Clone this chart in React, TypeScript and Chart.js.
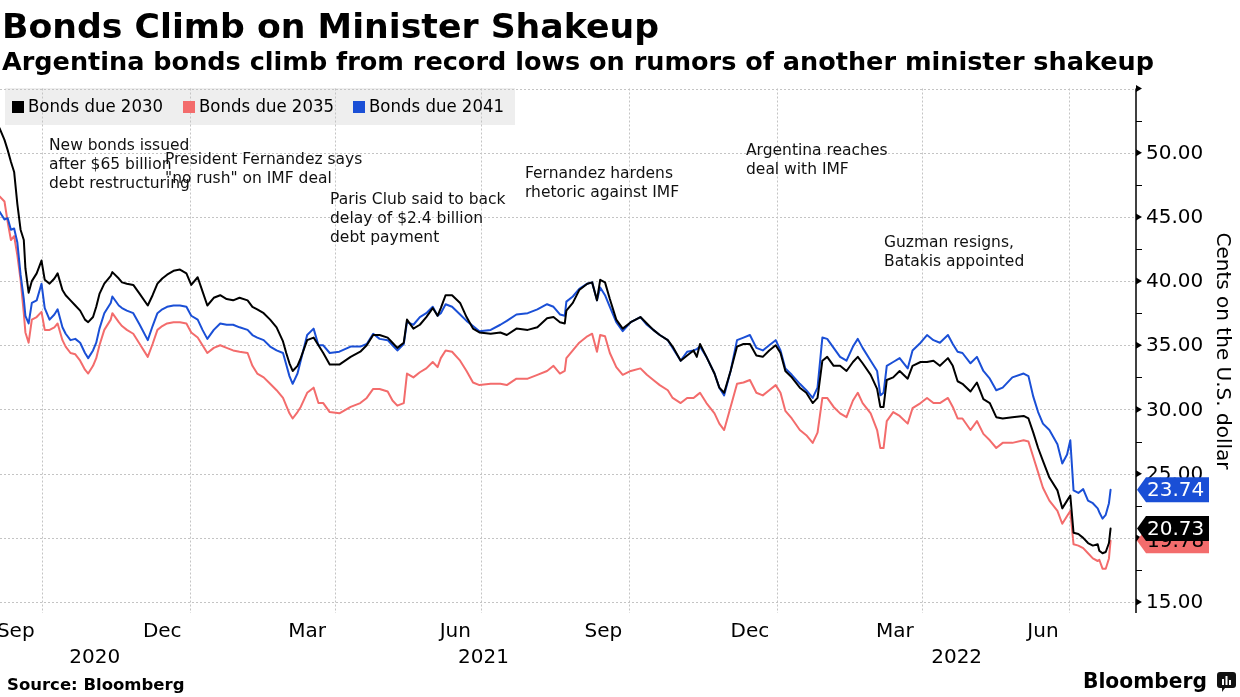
import React, { useEffect, useRef } from 'react';
import { Chart, registerables } from 'chart.js';

Chart.register(...registerables);

// Trading days, counted as days since 2020-09-01
const tradeDays = [
  4, 7, 9, 11, 13, 15, 17, 19, 20, 22,
  24, 27, 30, 32, 35, 38, 40, 43, 45, 48,
  51, 54, 57, 59, 62, 64, 66, 69, 73, 74,
  78, 80, 83, 87, 91, 96, 99, 102, 105, 108,
  112, 116, 120, 123, 127, 130, 133, 137, 141, 145,
  149, 153, 158, 161, 164, 168, 172, 176, 180, 182,
  184, 186, 189, 191, 195, 199, 202, 205, 209, 215,
  222, 228, 232, 236, 240, 245, 248, 251, 255, 257,
  261, 265, 269, 273, 276, 278, 281, 285, 290, 294,
  298, 302, 309, 315, 319, 325, 332, 338, 344, 348,
  352, 355, 356, 360, 364, 369, 372, 375, 377, 380,
  383, 387, 391, 396, 402, 406, 410, 414, 419, 422,
  427, 431, 435, 437, 439, 443, 448, 451, 454, 458,
  462, 466, 470, 474, 478, 482, 486, 489, 492, 496,
  501, 505, 509, 512, 515, 518, 522, 526, 530, 534,
  537, 540, 545, 549, 551, 553, 555, 559, 563, 568,
  571, 576, 580, 584, 588, 593, 596, 599, 602, 607,
  611, 615, 619, 623, 627, 633, 640, 643, 646, 649,
  652, 656, 661, 664, 667, 669, 671, 674, 677, 680,
  683, 686, 687, 689, 691, 693, 694,
];

const bonds2030 = [
  51.9, 51.0, 50.2, 49.3, 48.5, 46.0, 44.0, 43.2, 41.0, 39.1,
  40.0, 40.6, 41.6, 40.1, 39.8, 40.2, 40.6, 39.3, 38.9, 38.5,
  38.1, 37.7, 37.0, 36.8, 37.2, 38.0, 39.0, 39.8, 40.4, 40.7,
  40.2, 39.9, 39.8, 39.7, 39.0, 38.1, 38.9, 39.8, 40.2, 40.5,
  40.8, 40.9, 40.6, 39.7, 40.3, 39.2, 38.1, 38.7, 38.9, 38.6,
  38.5, 38.7, 38.5, 38.0, 37.8, 37.5, 37.0, 36.4, 35.3, 34.4,
  33.6, 33.0, 33.4, 34.0, 35.4, 35.6, 35.0, 34.4, 33.5, 33.5,
  34.1, 34.5, 35.0, 35.8, 35.8, 35.6, 35.2, 34.8, 35.2, 37.0,
  36.3, 36.6, 37.2, 37.9, 37.3, 37.9, 38.9, 38.9, 38.3, 37.2,
  36.3, 36.0, 35.9, 36.0, 35.8, 36.3, 36.2, 36.4, 37.1, 37.2,
  36.8, 36.7, 37.7, 38.3, 39.3, 39.8, 39.9, 38.5, 40.1, 39.9,
  38.6, 37.0, 36.3, 36.8, 37.2, 36.7, 36.2, 35.8, 35.4, 34.9,
  33.8, 34.2, 34.6, 34.1, 35.1, 34.1, 32.8, 31.7, 31.3, 33.0,
  34.9, 35.1, 35.1, 34.2, 34.1, 34.6, 35.0, 34.4, 33.0, 32.5,
  31.7, 31.3, 30.5, 30.9, 33.8, 34.1, 33.4, 33.4, 33.0, 33.7,
  34.1, 33.6, 32.7, 31.6, 30.2, 30.2, 32.3, 32.5, 33.0, 32.4,
  33.4, 33.7, 33.7, 33.8, 33.4, 34.0, 33.4, 32.2, 32.0, 31.4,
  32.1, 30.8, 30.5, 29.4, 29.3, 29.4, 29.5, 29.3, 28.2, 27.0,
  26.0, 24.7, 23.7, 22.3, 22.9, 23.3, 20.4, 20.3, 20.0, 19.6,
  19.4, 19.5, 19.0, 18.8, 18.9, 19.6, 20.73,
];

const bonds2035 = [
  46.6, 46.2, 44.6, 43.2, 43.5, 42.0, 40.1, 37.5, 36.0, 35.2,
  37.0, 37.2, 37.6, 36.2, 36.2, 36.4, 36.7, 35.4, 34.9, 34.4,
  34.3, 33.8, 33.1, 32.8, 33.4, 34.0, 35.0, 36.2, 37.0, 37.5,
  36.8, 36.5, 36.2, 35.9, 35.1, 34.1, 35.1, 36.2, 36.5, 36.7,
  36.8, 36.8, 36.7, 36.0, 35.6, 35.0, 34.4, 34.8, 35.0, 34.8,
  34.6, 34.5, 34.4, 33.4, 32.8, 32.5, 32.0, 31.5, 30.9, 30.3,
  29.7, 29.3, 29.8, 30.2, 31.3, 31.7, 30.5, 30.5, 29.8, 29.7,
  30.2, 30.5, 30.9, 31.6, 31.6, 31.4, 30.7, 30.3, 30.5, 32.8,
  32.5, 32.9, 33.2, 33.7, 33.3, 34.0, 34.6, 34.5, 33.8, 33.0,
  32.1, 31.9, 32.0, 32.0, 31.9, 32.4, 32.4, 32.7, 33.0, 33.4,
  32.8, 33.0, 34.0, 34.6, 35.2, 35.7, 35.9, 34.5, 35.8, 35.7,
  34.4, 33.3, 32.7, 33.0, 33.2, 32.7, 32.3, 31.9, 31.5, 30.9,
  30.5, 30.9, 30.9, 31.1, 31.3, 30.5, 29.7, 28.9, 28.4, 30.2,
  32.0, 32.1, 32.3, 31.3, 31.1, 31.5, 31.9, 31.3, 29.9, 29.3,
  28.4, 28.0, 27.4, 28.2, 30.9, 30.9, 30.2, 29.7, 29.4, 30.7,
  31.3, 30.5, 29.7, 28.4, 27.0, 27.0, 29.1, 29.8, 29.5, 28.9,
  30.1, 30.5, 30.9, 30.5, 30.5, 30.9, 30.2, 29.3, 29.3, 28.4,
  29.1, 28.1, 27.6, 27.0, 27.4, 27.4, 27.6, 27.5, 26.3, 25.1,
  23.9, 22.9, 22.1, 21.1, 21.7, 22.1, 19.5, 19.4, 19.2, 18.8,
  18.4, 18.2, 18.3, 17.6, 17.6, 18.4, 19.78,
];

const bonds2041 = [
  45.4, 44.8, 44.9, 44.0, 44.1, 43.0, 40.5, 38.6, 37.3, 36.7,
  38.3, 38.5, 39.8, 37.9, 37.0, 37.4, 37.8, 36.4, 35.9, 35.4,
  35.5, 35.2, 34.4, 34.0, 34.6, 35.2, 36.3, 37.5, 38.3, 38.8,
  38.1, 37.9, 37.7, 37.5, 36.6, 35.4, 36.5, 37.5, 37.8, 38.0,
  38.1, 38.1, 38.0, 37.3, 37.0, 36.2, 35.5, 36.2, 36.7, 36.6,
  36.6, 36.4, 36.2, 35.8, 35.6, 35.4, 34.9, 34.6, 34.4, 33.5,
  32.6, 32.0, 32.8, 33.8, 35.8, 36.3, 35.0, 35.0, 34.4, 34.5,
  34.9, 34.9, 35.1, 35.9, 35.5, 35.4, 35.0, 34.6, 35.1, 36.8,
  36.6, 37.2, 37.5, 38.0, 37.3, 37.5, 38.2, 38.0, 37.4, 36.9,
  36.5, 36.1, 36.2, 36.6, 36.9, 37.4, 37.5, 37.8, 38.2, 38.0,
  37.4, 37.3, 38.4, 38.8, 39.4, 39.8, 39.9, 38.5, 39.5, 38.9,
  38.0, 36.8, 36.1, 36.8, 37.2, 36.6, 36.2, 35.8, 35.4, 34.8,
  33.8, 34.5, 34.6, 34.7, 34.9, 34.1, 32.8, 31.7, 31.1, 33.0,
  35.4, 35.6, 35.8, 34.8, 34.6, 35.0, 35.4, 34.6, 33.2, 32.7,
  32.0, 31.5, 30.9, 31.7, 35.6, 35.5, 34.8, 34.1, 33.8, 34.9,
  35.5, 34.8, 33.8, 33.0, 31.1, 31.3, 33.4, 33.7, 34.0, 33.2,
  34.6, 35.2, 35.8, 35.4, 35.2, 35.8, 35.1, 34.5, 34.4, 33.6,
  34.1, 33.0, 32.4, 31.5, 31.7, 32.5, 32.8, 32.6, 31.0, 29.8,
  28.9, 28.4, 27.3, 25.8, 26.5, 27.6, 23.7, 23.5, 23.8, 22.9,
  22.7, 22.3, 22.0, 21.5, 21.8, 22.7, 23.74,
];

const seriesNames = ['Bonds due 2030', 'Bonds due 2035', 'Bonds due 2041'];
const seriesColors = ['#000000', '#f36c6c', '#1a4fd6'];
const labelTextColors = ['#ffffff', '#000000', '#ffffff'];

// Axes
const yMin = 14.15;
const yMax = 55;
const xMin = 4.22;
const xMax = 709.8;
const yMajorTicks = [15, 20, 25, 30, 35, 40, 45, 50, 55];
const yLabelledTicks = [15, 20, 25, 30, 35, 40, 45, 50];
const yMinorTicks = [17.5, 22.5, 27.5, 32.5, 37.5, 42.5, 47.5, 52.5];
const monthLabels = ['Sep', 'Dec', 'Mar', 'Jun', 'Sep', 'Dec', 'Mar', 'Jun'];
const monthLabelDays = [14, 105, 195, 287, 379, 470, 560, 652];
const quarterGridDays = [30, 122, 212, 303, 395, 487, 577, 668];
const yearLabels = ['2020', '2021', '2022'];
const yearStartDays = [-244, 122, 487];
const yearEndDays = [122, 487, 852];

// Texts
const titleText = 'Bonds Climb on Minister Shakeup';
const subtitleText = 'Argentina bonds climb from record lows on rumors of another minister shakeup';
const yAxisTitle = 'Cents on the U.S. dollar';
const sourceText = 'Source: Bloomberg';
const annotationTexts = [
  ['New bonds issued', 'after $65 billion', 'debt restructuring'],
  ['President Fernandez says', '"no rush" on IMF deal'],
  ['Paris Club said to back', 'delay of $2.4 billion', 'debt payment'],
  ['Fernandez hardens', 'rhetoric against IMF'],
  ['Argentina reaches', 'deal with IMF'],
  ['Guzman resigns,', 'Batakis appointed'],
];
// Annotation placement (pixels): left x, first baseline y
const annotationLayout = [
  [49, 150],
  [165, 164],
  [330, 204],
  [525, 178],
  [746, 155],
  [884, 247],
];

const FONT = '"DejaVu Sans", Verdana, sans-serif';

function fitText(ctx: CanvasRenderingContext2D, text: string, x: number, y: number, font: string, targetW: number, baseline: CanvasTextBaseline = 'alphabetic') {
  ctx.save();
  ctx.font = font;
  const w = ctx.measureText(text).width;
  const sx = targetW / w;
  ctx.translate(x, y);
  ctx.scale(sx, 1);
  ctx.textAlign = 'left';
  ctx.textBaseline = baseline;
  ctx.fillText(text, 0, 0);
  ctx.restore();
}

const bloombergPlugin = {
  id: 'bloombergDecor',
  beforeDatasetsDraw(chart: any) {
    const ctx: CanvasRenderingContext2D = chart.ctx;
    const area = chart.chartArea;
    const xs = chart.scales.x;
    const ys = chart.scales.y;
    ctx.save();
    // legend background
    ctx.fillStyle = '#eeeeee';
    ctx.fillRect(5, 88, 510, 37);
    // grid
    ctx.strokeStyle = '#c4c4c4';
    ctx.lineWidth = 1;
    ctx.setLineDash([2, 2]);
    for (const v of yMajorTicks) {
      const y = Math.round(ys.getPixelForValue(v)) + 0.5;
      ctx.beginPath();
      ctx.moveTo(area.left, y);
      ctx.lineTo(area.right, y);
      ctx.stroke();
    }
    for (const d of quarterGridDays) {
      const x = Math.round(xs.getPixelForValue(d)) + 0.5;
      ctx.beginPath();
      ctx.moveTo(x, area.top);
      ctx.lineTo(x, area.bottom);
      ctx.stroke();
    }
    ctx.restore();
  },
  afterDatasetsDraw(chart: any) {
    const ctx: CanvasRenderingContext2D = chart.ctx;
    const area = chart.chartArea;
    const xs = chart.scales.x;
    const ys = chart.scales.y;
    const ax = area.right;
    ctx.save();

    // Legend entries
    const legendX = [12, 183, 353];
    seriesNames.forEach((name, i) => {
      ctx.fillStyle = seriesColors[i];
      ctx.fillRect(legendX[i], 101, 12, 12);
      ctx.fillStyle = '#000';
      fitText(ctx, name, legendX[i] + 16, 107.5, `18px ${FONT}`, 135, 'middle');
    });

    // Annotations
    ctx.font = `15.5px ${FONT}`;
    ctx.fillStyle = '#111';
    ctx.textAlign = 'left';
    ctx.textBaseline = 'alphabetic';
    annotationTexts.forEach((lines, i) => {
      const [x, y] = annotationLayout[i];
      lines.forEach((ln, j) => ctx.fillText(ln, x, y + j * 19));
    });

    // Y axis line
    ctx.strokeStyle = '#000';
    ctx.fillStyle = '#000';
    ctx.lineWidth = 1.5;
    ctx.beginPath();
    ctx.moveTo(ax, area.top);
    ctx.lineTo(ax, area.bottom);
    ctx.stroke();
    for (const v of yMajorTicks) {
      const y = ys.getPixelForValue(v);
      ctx.beginPath();
      ctx.moveTo(ax, y - 3.5);
      ctx.lineTo(ax + 6, y);
      ctx.lineTo(ax, y + 3.5);
      ctx.closePath();
      ctx.fill();
    }
    ctx.lineWidth = 1;
    for (const v of yMinorTicks) {
      const y = Math.round(ys.getPixelForValue(v)) + 0.5;
      ctx.beginPath();
      ctx.moveTo(ax, y);
      ctx.lineTo(ax + 6, y);
      ctx.stroke();
    }
    ctx.font = `20px ${FONT}`;
    ctx.textBaseline = 'middle';
    ctx.textAlign = 'left';
    for (const v of yLabelledTicks) {
      ctx.fillText(v.toFixed(2), ax + 10, ys.getPixelForValue(v) + 1);
    }

    // Y axis title
    ctx.save();
    ctx.translate(1222, 351);
    ctx.rotate(Math.PI / 2);
    ctx.textAlign = 'center';
    ctx.textBaseline = 'middle';
    ctx.font = `20px ${FONT}`;
    ctx.fillText(yAxisTitle, 0, 0);
    ctx.restore();

    // X labels
    ctx.font = `20px ${FONT}`;
    ctx.textAlign = 'center';
    ctx.textBaseline = 'alphabetic';
    monthLabels.forEach((m, i) => {
      ctx.fillText(m, xs.getPixelForValue(monthLabelDays[i]), 637);
    });
    yearLabels.forEach((yl, i) => {
      const a = Math.max(yearStartDays[i], xMin);
      const b = Math.min(yearEndDays[i], xMax);
      const cx = (xs.getPixelForValue(a) + xs.getPixelForValue(b)) / 2;
      ctx.fillText(yl, cx, 663);
    });

    // End-value flags (red, black, blue order so black sits over red)
    const seriesValues = [bonds2030, bonds2035, bonds2041];
    [1, 0, 2].forEach((i) => {
      const vals = seriesValues[i];
      const last = vals[vals.length - 1];
      const y = ys.getPixelForValue(last);
      const h = 12.5;
      ctx.fillStyle = seriesColors[i];
      ctx.beginPath();
      ctx.moveTo(ax + 1, y);
      ctx.lineTo(ax + 10, y - h);
      ctx.lineTo(1209, y - h);
      ctx.lineTo(1209, y + h);
      ctx.lineTo(ax + 10, y + h);
      ctx.closePath();
      ctx.fill();
      ctx.fillStyle = labelTextColors[i];
      ctx.font = `20px ${FONT}`;
      ctx.textAlign = 'left';
      ctx.textBaseline = 'middle';
      ctx.fillText(last.toFixed(2), ax + 11, y + 1);
    });

    // Title & subtitle
    ctx.fillStyle = '#000';
    fitText(ctx, titleText, 2, 38, `bold 34px ${FONT}`, 657);
    fitText(ctx, subtitleText, 2, 70, `bold 25px ${FONT}`, 1152);

    // Source
    ctx.font = `bold 16.5px ${FONT}`;
    ctx.textAlign = 'left';
    ctx.textBaseline = 'alphabetic';
    ctx.fillStyle = '#000';
    ctx.fillText(sourceText, 7, 690);

    // Bloomberg wordmark
    fitText(ctx, 'Bloomberg', 1083, 688, `bold 21px ${FONT}`, 124);
    // logo icon
    ctx.fillStyle = '#111';
    ctx.beginPath();
    const lx = 1217, ly = 672, lw = 19, lh = 16, r = 3;
    ctx.moveTo(lx + r, ly);
    ctx.lineTo(lx + lw - r, ly);
    ctx.quadraticCurveTo(lx + lw, ly, lx + lw, ly + r);
    ctx.lineTo(lx + lw, ly + lh - r);
    ctx.quadraticCurveTo(lx + lw, ly + lh, lx + lw - r, ly + lh);
    ctx.lineTo(lx + 8, ly + lh);
    ctx.lineTo(lx + 5, ly + lh + 4);
    ctx.lineTo(lx + 5, ly + lh);
    ctx.lineTo(lx + r, ly + lh);
    ctx.quadraticCurveTo(lx, ly + lh, lx, ly + lh - r);
    ctx.lineTo(lx, ly + r);
    ctx.quadraticCurveTo(lx, ly, lx + r, ly);
    ctx.closePath();
    ctx.fill();
    ctx.fillStyle = '#fff';
    ctx.fillRect(lx + 5, ly + 7, 2, 6);
    ctx.fillRect(lx + 8.5, ly + 4, 2, 9);
    ctx.fillRect(lx + 12, ly + 8, 2, 5);

    ctx.restore();
  },
};

export default function App() {
  const canvasRef = useRef<HTMLCanvasElement | null>(null);

  useEffect(() => {
    const canvas = canvasRef.current;
    if (!canvas) return;
    const makeData = (vals: number[]) => tradeDays.map((d, i) => ({ x: d, y: vals[i] }));
    const chart = new Chart(canvas, {
      type: 'line',
      data: {
        datasets: [
          { label: seriesNames[0], data: makeData(bonds2030), borderColor: seriesColors[0], borderWidth: 2, pointRadius: 0, tension: 0, fill: false },
          { label: seriesNames[2], data: makeData(bonds2041), borderColor: seriesColors[2], borderWidth: 2, pointRadius: 0, tension: 0, fill: false },
          { label: seriesNames[1], data: makeData(bonds2035), borderColor: seriesColors[1], borderWidth: 2, pointRadius: 0, tension: 0, fill: false },
        ],
      },
      options: {
        animation: false,
        responsive: false,
        maintainAspectRatio: false,
        devicePixelRatio: 1,
        layout: { padding: { left: 0, top: 88.5, right: 104, bottom: 84 } },
        plugins: { legend: { display: false }, tooltip: { enabled: false }, title: { display: false } },
        scales: {
          x: { type: 'linear', min: xMin, max: xMax, display: false },
          y: { type: 'linear', min: yMin, max: yMax, display: false },
        },
        elements: { line: { borderJoinStyle: 'round', borderCapStyle: 'round' } },
      },
      plugins: [bloombergPlugin],
    });
    return () => chart.destroy();
  }, []);

  return (
    <div style={{ position: 'absolute', left: 0, top: 0, width: 1240, height: 697, background: '#fff' }}>
      <canvas ref={canvasRef} width={1240} height={697} style={{ width: 1240, height: 697, display: 'block' }} />
    </div>
  );
}
